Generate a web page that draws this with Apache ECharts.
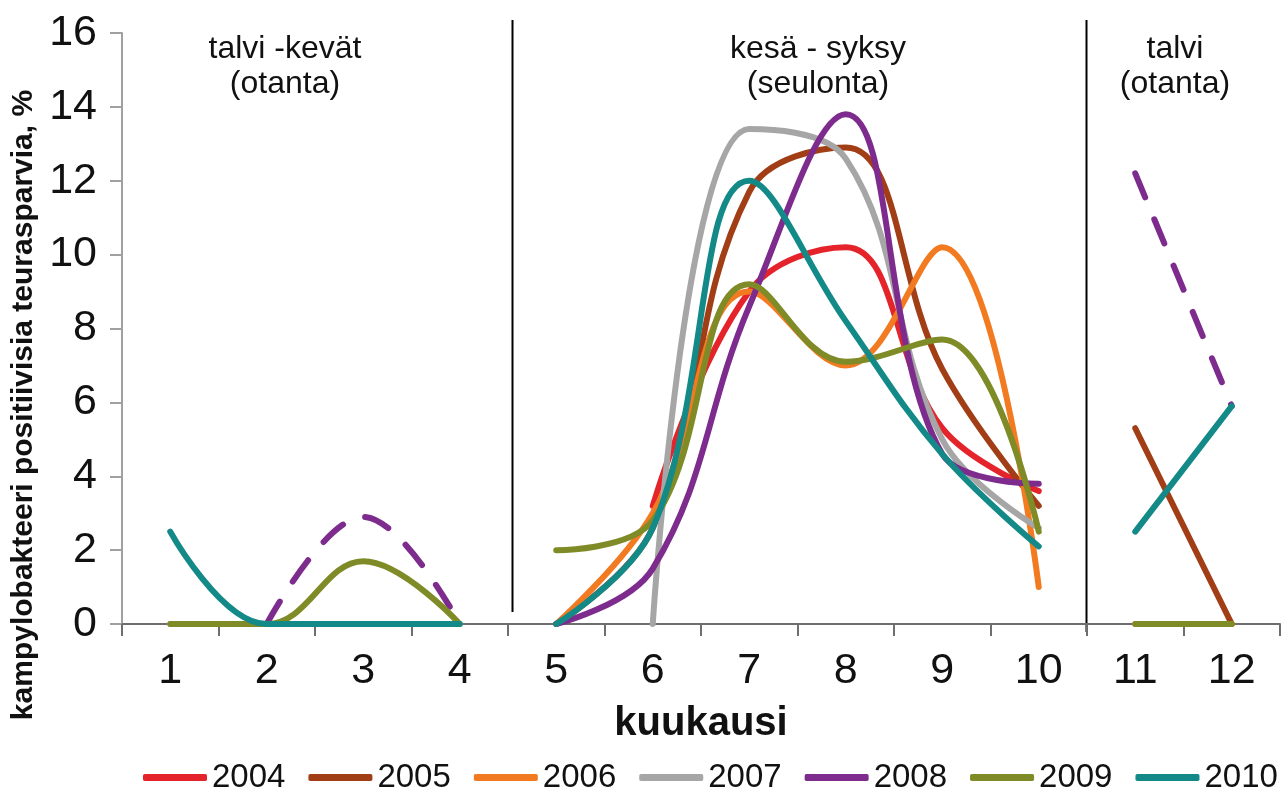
<!DOCTYPE html>
<html><head><meta charset="utf-8">
<script src="https://cdn.jsdelivr.net/npm/echarts@6/dist/echarts.min.js"></script>
<style>html,body{margin:0;padding:0;background:#fff}#c{width:1288px;height:802px}</style>
</head><body><div id="c"></div>
<script>
const months = ['1','2','3','4','5','6','7','8','9','10','11','12'];
const years = ['2004','2005','2006','2007','2008','2009','2010'];
const yearColors = ['#E4232A','#A23E16','#F27B21','#A6A6A6','#7E2B8E','#7F8B26','#138A87'];
const v2004 = [null,null,null,null,null,3.2,9.0,10.2,5.3,3.6,null,null];
const v2005 = [null,null,null,null,0,2.6,11.7,12.9,6.9,3.2,5.3,0];
const v2006 = [null,null,null,null,0,3.0,9.0,7.0,10.2,1.0,0,0];
const v2007 = [0,0,0,null,null,0,13.4,12.6,5.0,2.6,null,null];
const v2008 = [null,0,2.9,0,0,1.5,8.6,13.8,4.6,3.8,12.2,5.9];
const v2009 = [0,0,1.7,0,2.0,2.8,9.2,7.1,7.7,2.5,0,0];
const v2010 = [2.5,0,0,0,0,2.6,12.0,8.2,4.6,2.1,2.5,5.9];
const yValues = [v2004,v2005,v2006,v2007,v2008,v2009,v2010];
const regionLabels = ['talvi -kevät\n(otanta)','kesä - syksy\n(seulonta)','talvi\n(otanta)'];
const regionRanges = [[0,3],[4,9],[10,11]];
const dashedParts = {'2008':[0,2]};
const yAxisTitle = 'kampylobakteeri positiivisia teurasparvia, %';
const xAxisTitle = 'kuukausi';

const FONT = '"Liberation Sans", Arial, sans-serif';

const series = [];
years.forEach((yr, k) => {
  regionRanges.forEach((rg, r) => {
    const data = months.map((m, i) => (i >= rg[0] && i <= rg[1]) ? yValues[k][i] : null);
    if (data.every(d => d === null)) return;
    const dashed = (dashedParts[yr] || []).includes(r);
    series.push({
      name: yr, type: 'line', xAxisIndex: 0, yAxisIndex: 0,
      data: data, smooth: 0.4, symbol: 'none', connectNulls: false,
      color: yearColors[k],
      itemStyle: {color: yearColors[k]},
      lineStyle: {color: yearColors[k], width: 6, cap: 'round', join: 'round',
                  type: dashed ? [26, 24] : 'solid'},
      emphasis: {disabled: true}, animation: false
    });
  });
});

const chart = echarts.init(document.getElementById('c'), null, {renderer: 'canvas'});
const option = {
  backgroundColor: '#ffffff',
  animation: false,
  grid: {left: 122, right: 8, top: 33, bottom: 178, containLabel: false},
  legend: {
    data: years, left: 143, top: 761, width: 1145, padding: 0, icon: 'roundRect',
    itemWidth: 64, itemHeight: 7, itemGap: 23,
    textStyle: {fontFamily: FONT, fontSize: 33, color: '#111'}
  },
  xAxis: [{
    type: 'category', data: months, boundaryGap: true,
    axisLine: {lineStyle: {color: '#6e6e6e', width: 2}},
    axisTick: {show: true, length: 12, lineStyle: {color: '#6e6e6e', width: 2}},
    axisLabel: {fontFamily: FONT, fontSize: 43, color: '#111', margin: 26},
    name: xAxisTitle, nameLocation: 'middle', nameGap: 80,
    nameTextStyle: {fontFamily: FONT, fontSize: 40, fontWeight: 'bold', color: '#111'},
    splitLine: {show: false}
  }, {
    type: 'value', min: 0.5, max: 12.5, show: false
  }],
  yAxis: {
    type: 'value', min: 0, max: 16, interval: 2,
    axisLine: {show: true, lineStyle: {color: '#a0a0a0', width: 2}},
    axisTick: {show: true, length: 12, lineStyle: {color: '#a0a0a0', width: 2}},
    axisLabel: {fontFamily: FONT, fontSize: 43, color: '#111', margin: 25},
    splitLine: {show: false}
  },
  series: series
};
chart.setOption(option);

const px = v => chart.convertToPixel({xAxisIndex: 1}, v);
const y0 = chart.convertToPixel({yAxisIndex: 0}, 0);
const graphics = [];
[[4.54, 20, y0 - 12], [10.49, 20, y0 + 8]].forEach(s => {
  const x = Math.round(px(s[0])) + 0.5;
  graphics.push({type: 'line', shape: {x1: x, y1: s[1], x2: x, y2: s[2]},
    style: {stroke: '#000', lineWidth: 2}, silent: true});
});
const labelCenters = [285, 818, 1175];
regionLabels.forEach((t, i) => {
  graphics.push({type: 'text', x: labelCenters[i], y: 32, silent: true,
    style: {text: t, align: 'center', verticalAlign: 'top', font: '32px ' + FONT, fill: '#111', lineHeight: 35}});
});
graphics.push({type: 'text', silent: true, rotation: Math.PI / 2, x: 9, y: 405,
  style: {text: yAxisTitle, align: 'center', verticalAlign: 'top',
          font: 'bold 30px ' + FONT, fill: '#111'}});
chart.setOption({graphic: graphics});
</script></body></html>
